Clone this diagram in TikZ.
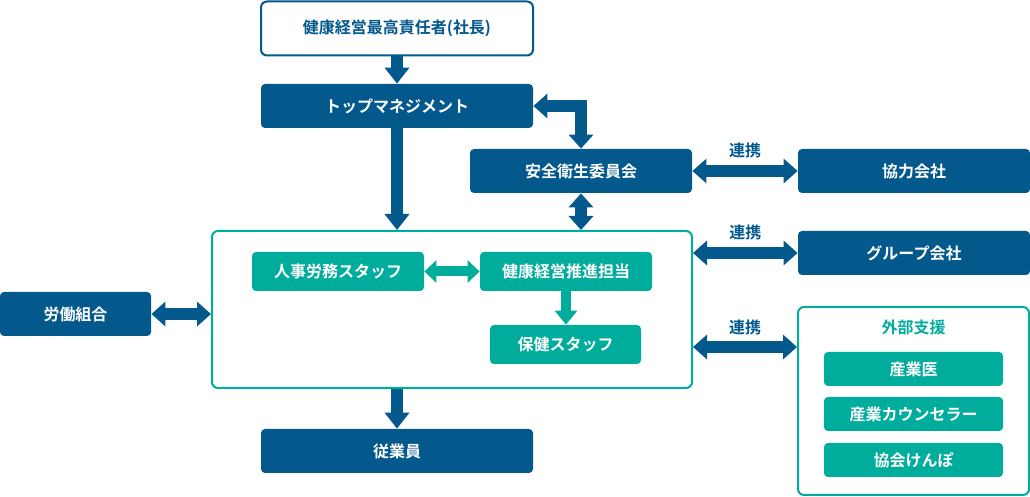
\documentclass[tikz,border=0pt]{standalone}
\usepackage{fontspec}
\setmainfont{Noto Sans CJK JP}[BoldFont={Noto Sans CJK JP Bold}]
\usepackage{tikz}
\usetikzlibrary{arrows.meta}
\definecolor{orgblue}{HTML}{03588C}
\definecolor{orgteal}{HTML}{00AC9B}
\tikzset{
  bluebox/.style={fill=orgblue,text=white,rounded corners=2pt,inner sep=0pt,font=\bfseries\fontsize{8pt}{9.5pt}\selectfont},
  whitebox/.style={draw=orgblue,line width=1pt,fill=white,text=orgblue,rounded corners=3pt,inner sep=0pt,font=\bfseries\fontsize{8pt}{9.5pt}\selectfont},
  tealbox/.style={fill=orgteal,text=white,rounded corners=2pt,inner sep=0pt,font=\bfseries\fontsize{8pt}{9.5pt}\selectfont},
  tealframe/.style={draw=orgteal,line width=1pt,rounded corners=3pt,inner sep=0pt},
  bigarrow/.style={draw=orgblue,line width=6pt,-{Triangle[width=12pt,length=8pt]}},
  bigboth/.style={draw=orgblue,line width=6pt,{Triangle[width=12pt,length=7pt]}-{Triangle[width=12pt,length=7pt]}},
  tealarrow/.style={draw=orgteal,line width=5pt,-{Triangle[width=11pt,length=7pt]}},
  tealboth/.style={draw=orgteal,line width=5pt,{Triangle[width=11pt,length=6pt]}-{Triangle[width=11pt,length=6pt]}},
  linklabel/.style={text=orgblue,font=\bfseries\fontsize{8pt}{9.5pt}\selectfont}
}
\begin{document}
\begin{tikzpicture}[x=0.5pt,y=-0.5pt]
\useasboundingbox (0,0) rectangle (1030,497);
\node[whitebox,minimum width=136pt,minimum height=27pt] (ceo) at (397,28.5) {健康経営最高責任者(社長)};
\node[bluebox,minimum width=136pt,minimum height=22pt] (top) at (397,106) {トップマネジメント};
\node[bluebox,minimum width=111pt,minimum height=22pt] (committee) at (581,171) {安全衛生委員会};
\node[bluebox,minimum width=116pt,minimum height=22pt] (partner) at (914,171) {協力会社};
\node[bluebox,minimum width=116pt,minimum height=22pt] (group) at (914,253) {グループ会社};
\node[tealframe,minimum width=240pt,minimum height=78.5pt] (unit) at (452,309.5) {};
\node[tealbox,minimum width=86pt,minimum height=19.5pt] (hr) at (338,271.5) {人事労務スタッフ};
\node[tealbox,minimum width=86pt,minimum height=19.5pt] (promo) at (566,271.5) {健康経営推進担当};
\node[tealbox,minimum width=75.5pt,minimum height=19.5pt] (health) at (565.5,344.5) {保健スタッフ};
\node[bluebox,minimum width=75.5pt,minimum height=22pt] (union) at (75.5,314) {労働組合};
\node[tealframe,minimum width=115.5pt,minimum height=94pt] (ext) at (913.5,401) {};
\node[text=orgteal,font=\bfseries\fontsize{8pt}{9.5pt}\selectfont] (exttitle) at (913.5,327) {外部支援};
\node[tealbox,minimum width=89.5pt,minimum height=17pt] (doctor) at (913.5,369) {産業医};
\node[tealbox,minimum width=89.5pt,minimum height=17pt] (counselor) at (913.5,414) {産業カウンセラー};
\node[tealbox,minimum width=89.5pt,minimum height=17pt] (kyokai) at (913.5,460) {協会けんぽ};
\node[bluebox,minimum width=136pt,minimum height=22pt] (staff) at (397,451) {従業員};
\coordinate (extlink) at (745,347);
\draw[bigarrow] (ceo) -- (top);
\draw[bigarrow] (top.south) -- (top.south |- unit.north);
\draw[bigboth,line join=miter] (top.east) -| (committee.north);
\draw[bigboth] (committee.south) -- (committee.south |- unit.north);
\draw[bigboth] (committee.east) -- (partner.west) node[midway,yshift=10.5pt,linklabel]{連携};
\draw[bigboth] (group.west -| unit.east) -- (group.west) node[midway,yshift=10.5pt,linklabel]{連携};
\draw[bigboth] (extlink -| unit.east) -- (extlink -| ext.west) node[midway,yshift=10pt,linklabel]{連携};
\draw[bigboth] (union.east) -- (union.east -| unit.west);
\draw[tealboth] (hr) -- (promo);
\draw[tealarrow] (promo.south) -- (promo.south |- health.north);
\draw[bigarrow] (unit.south -| staff) -- (staff.north);
\end{tikzpicture}
\end{document}
